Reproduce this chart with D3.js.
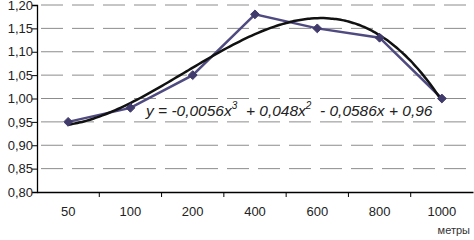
<!DOCTYPE html>
<html><head><meta charset="utf-8">
<script src="https://cdn.jsdelivr.net/npm/d3@7"></script>
<style>body{margin:0;background:#fff}svg{display:block}</style>
</head><body>
<script>
const categories = ["50","100","200","400","600","800","1000"];
const values = [0.95, 0.98, 1.05, 1.18, 1.15, 1.13, 1.00];
const yTicks = [0.80,0.85,0.90,0.95,1.00,1.05,1.10,1.15,1.20];
const xTitle = "метры";

const W=474,H=240;
const m={l:37,r:1,t:5,b:48};
const svg=d3.select("body").append("svg").attr("width",W).attr("height",H);
const x=d3.scaleBand().domain(categories).range([m.l,W-m.r]);
const y=d3.scaleLinear().domain([0.8,1.2]).range([H-m.b,m.t]);
const font="Liberation Sans, Arial, sans-serif";

// gridlines
svg.append("g").selectAll("line").data(yTicks.slice(1)).join("line")
  .attr("x1",m.l+1).attr("x2",W-m.r).attr("y1",d=>y(d)).attr("y2",d=>y(d))
  .attr("stroke","#8c8c8c").attr("stroke-width",1).attr("stroke-dasharray","22,9")
  .attr("stroke-dashoffset",-3);

// y axis
const ya=svg.append("g").attr("transform",`translate(${m.l},0)`)
  .call(d3.axisLeft(y).tickValues(yTicks).tickSize(5).tickFormat(d=>d3.format(".2f")(d).replace(".",",")));
ya.select(".domain").attr("stroke","#000").attr("stroke-width",1.3);
ya.selectAll(".tick line").attr("stroke","#000");
ya.selectAll("text").attr("font-family",font).attr("font-size",13).attr("fill","#222").attr("x",-4);

// x axis
const xa=svg.append("g").attr("transform",`translate(0,${H-m.b})`)
  .call(d3.axisBottom(x).tickSize(0).tickPadding(15));
xa.select(".domain").attr("stroke","#000").attr("stroke-width",1.3);
xa.selectAll("text").attr("font-family",font).attr("font-size",13).attr("fill","#222");
// boundary ticks
xa.append("g").selectAll("line").data(categories.slice(1)).join("line")
  .attr("x1",d=>x(d)).attr("x2",d=>x(d)).attr("y1",0).attr("y2",5).attr("stroke","#000");

svg.append("text").attr("x",470).attr("y",234).attr("text-anchor","end")
  .attr("font-family",font).attr("font-size",11).attr("fill","#333").text(xTitle);

// data line
const cx=d=>x(d)+x.bandwidth()/2;
const pts=categories.map((c,i)=>[cx(c),y(values[i])]);
svg.append("path").attr("d",d3.line()(pts)).attr("fill","none")
  .attr("stroke","#4f4a80").attr("stroke-width",2.5);

// cubic least-squares trend from the data
function fit(xs,ys,deg){
  const n=deg+1;const A=[];for(let i=0;i<n;i++){A.push(new Array(n+1).fill(0));}
  xs.forEach((xv,k)=>{for(let i=0;i<n;i++){for(let j=0;j<n;j++)A[i][j]+=Math.pow(xv,i+j);A[i][n]+=ys[k]*Math.pow(xv,i);}});
  for(let i=0;i<n;i++){let p=i;for(let r=i+1;r<n;r++)if(Math.abs(A[r][i])>Math.abs(A[p][i]))p=r;[A[i],A[p]]=[A[p],A[i]];
    for(let r=0;r<n;r++){if(r===i)continue;const f=A[r][i]/A[i][i];for(let c=i;c<=n;c++)A[r][c]-=f*A[i][c];}}
  return A.map((row,i)=>row[n]/row[i]);
}
const idx=values.map((v,i)=>i+1);
const coef=fit(idx,values,3);
const tp=d3.range(1,7.0001,0.05).map(t=>{const v=coef[0]+coef[1]*t+coef[2]*t*t+coef[3]*t*t*t;
  const px=cx(categories[0])+(t-1)*x.step();return [px,y(v)];});
svg.append("path").attr("d",d3.line().curve(d3.curveBasis)(tp)).attr("fill","none")
  .attr("stroke","#111").attr("stroke-width",2.5);

// markers
svg.append("g").selectAll("path").data(pts).join("path")
  .attr("transform",d=>`translate(${d[0]},${d[1]})`)
  .attr("d",d3.symbol(d3.symbolDiamond2,50)).attr("fill","#403b6b").attr("stroke","#403b6b");

// equation label
const eq=svg.append("text").attr("x",146).attr("y",116).attr("font-family",font)
  .attr("font-size",15.5).attr("font-style","italic").attr("fill","#222")
  .style("white-space","pre");
eq.append("tspan").text("y = -0,0056x");
eq.append("tspan").attr("dy",-7).attr("font-size",10).text("3");
eq.append("tspan").attr("dy",7).text("  + 0,048x");
eq.append("tspan").attr("dy",-7).attr("font-size",10).text("2");
eq.append("tspan").attr("dy",7).text("  - 0,0586x + 0,96");
</script>
</body></html>
